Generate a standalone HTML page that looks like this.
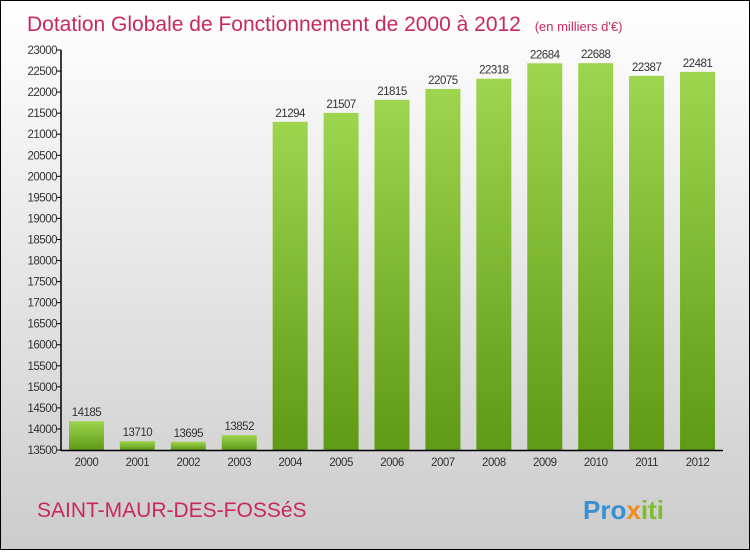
<!DOCTYPE html>
<html><head><meta charset="utf-8"><style>
html,body{margin:0;padding:0}
body{width:750px;height:550px;overflow:hidden;font-family:"Liberation Sans",sans-serif}
#wrap{position:absolute;left:0;top:0;width:748px;height:548px;border:1px solid #000;background:linear-gradient(#ffffff,#cccccc)}
</style></head><body>
<div id="wrap">
<svg id="chart" width="748" height="548">
<defs>
<linearGradient id="bg" x1="0" y1="0" x2="0" y2="1"><stop offset="0" stop-color="#9ed54e"/><stop offset="1" stop-color="#5f9a15"/></linearGradient>
</defs>
<text x="26" y="30" font-size="21" fill="#c8285e">Dotation Globale de Fonctionnement de 2000 à 2012 <tspan font-size="13" dx="8">(en milliers d'€)</tspan></text>
<text x="36" y="516" font-size="21" fill="#c8285e">SAINT-MAUR-DES-FOSSéS</text>
<text x="582" y="518" font-size="26" font-weight="bold"><tspan fill="#3a8fd0">Pro</tspan><tspan fill="#f08c1a">x</tspan><tspan fill="#7cbf2a">iti</tspan></text>
<g id="plot"></g>
</svg>
</div>
<script>
const categories=["2000","2001","2002","2003","2004","2005","2006","2007","2008","2009","2010","2011","2012"];
const values=[14185,13710,13695,13852,21294,21507,21815,22075,22318,22684,22688,22387,22481];
const yTicks=[13500,14000,14500,15000,15500,16000,16500,17000,17500,18000,18500,19000,19500,20000,20500,21000,21500,22000,22500,23000];
const NS="http://www.w3.org/2000/svg";
const g=document.getElementById('plot');
const x0=60,x1=722,yb=449,yt=49,vmin=13500,vmax=23000;
const y=v=>yb-(v-vmin)/(vmax-vmin)*(yb-yt);
const band=(x1-x0)/categories.length;
const xc=i=>x0+band*(i+0.5);
function mk(t,a){const e=document.createElementNS(NS,t);for(const k in a)e.setAttribute(k,a[k]);g.appendChild(e);return e;}
yTicks.forEach(v=>{
 const l=mk('line',{x1:x0-4,x2:x0,y1:y(v),y2:y(v),stroke:'#000'});
 
 
 const t=mk('text',{x:x0-4,y:y(v)+4,'text-anchor':'end','font-size':11.5,fill:'#333','letter-spacing':'-0.5'});
 t.textContent=v;
 
 
});
categories.forEach((c,i)=>{
 const bw=35,h=yb-y(values[i]);
 const r=mk('rect',{x:xc(i)-bw/2,y:y(values[i]),width:bw,height:h,fill:'url(#bg)'});
 
 
 const v=mk('text',{x:xc(i),y:y(values[i])-5,'text-anchor':'middle','font-size':11.5,fill:'#333','letter-spacing':'-0.5'});
 v.textContent=values[i];
 
 
 const t=mk('text',{x:xc(i),y:yb+16,'text-anchor':'middle','font-size':11.5,fill:'#333','letter-spacing':'-0.5'});
 t.textContent=c;
 
 
});
const ax=mk('line',{x1:x0,x2:x0,y1:yt,y2:yb+1,stroke:'#000','stroke-width':1.5});


const bx=mk('line',{x1:x0,x2:x1,y1:yb+0.5,y2:yb+0.5,stroke:'#000','stroke-width':1.5});


</script>
</body></html>
